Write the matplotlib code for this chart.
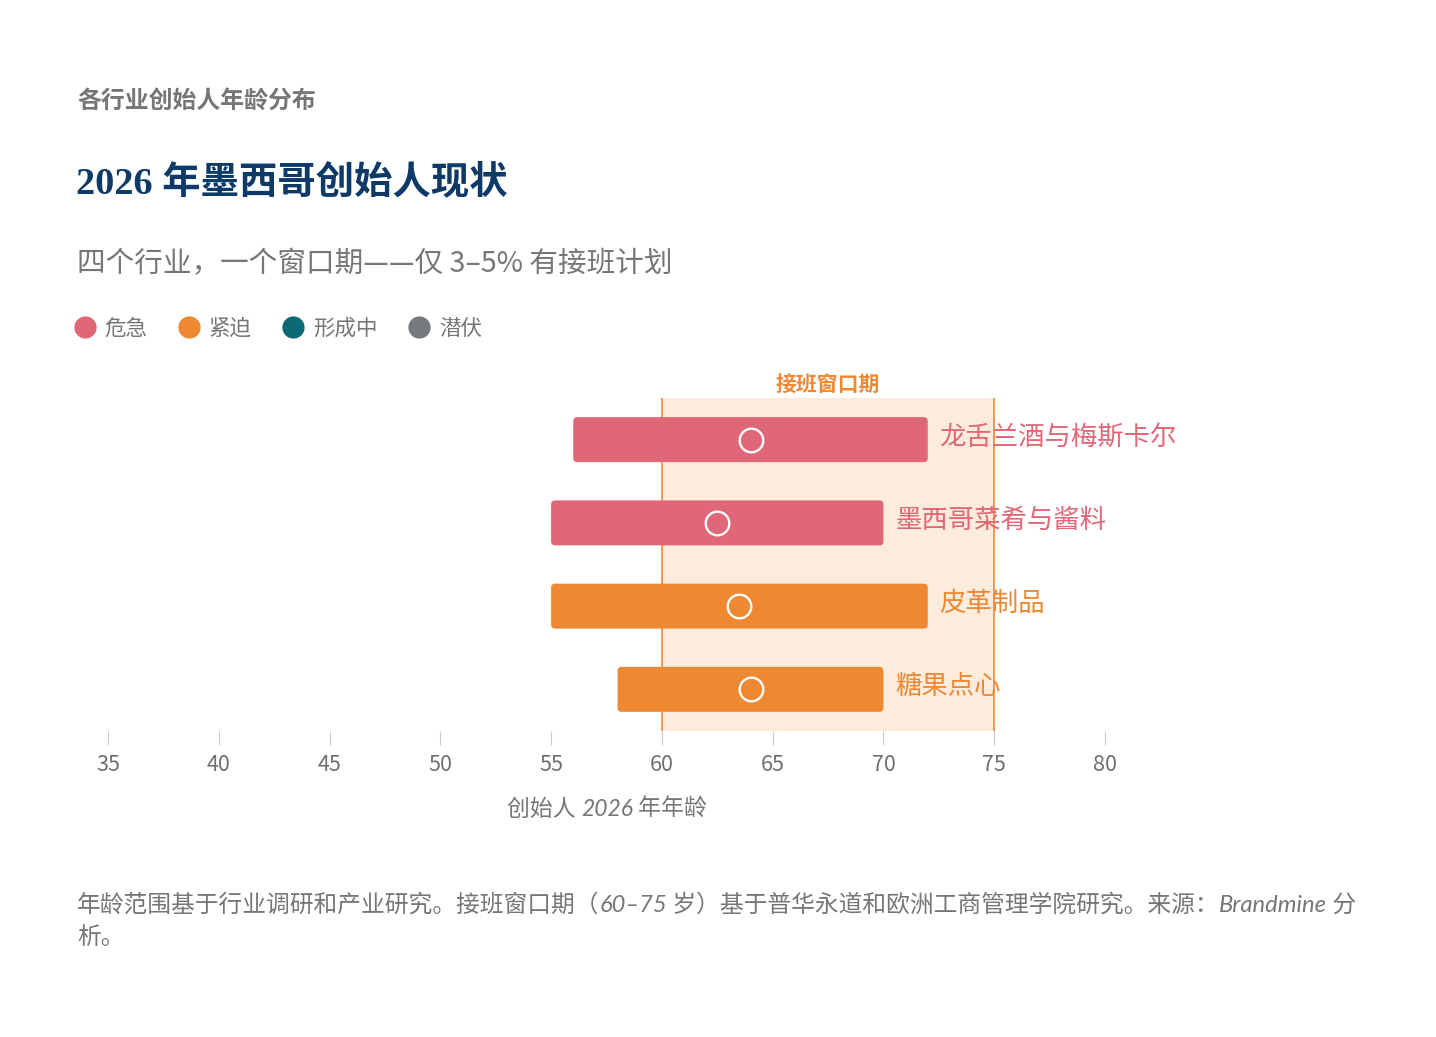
import matplotlib
matplotlib.use("Agg")
import matplotlib.pyplot as plt
from matplotlib.patches import FancyBboxPatch
from matplotlib.lines import Line2D

# ── Data ────────────────────────────────────────────────
industries = ['龙舌兰酒与梅斯卡尔', '墨西哥菜肴与酱料', '皮革制品', '糖果点心']
age_low    = [56, 55, 55, 58]
age_high   = [72, 70, 72, 70]
age_mid    = [64, 62.5, 63.5, 64]
status     = ['危急', '危急', '紧迫', '紧迫']

legend_labels = ['危急', '紧迫', '形成中', '潜伏']
window = (60, 75)
x_ticks = [35, 40, 45, 50, 55, 60, 65, 70, 75, 80]

# ── Style ───────────────────────────────────────────────
COLORS = {'危急': '#E06777', '紧迫': '#EE8833', '形成中': '#0B6A74', '潜伏': '#76797B'}
NAVY   = '#0D3A66'
GRAY   = '#767676'
SHADE  = '#FDEBDC'
CJK    = ['Noto Sans CJK SC', 'DejaVu Sans']
ITAL   = ['Lato', 'Noto Sans CJK SC', 'DejaVu Sans']
plt.rcParams['font.family'] = CJK

W, H = 1436, 1037
fig = plt.figure(figsize=(W / 100, H / 100), dpi=100)
fig.patch.set_facecolor('white')

def fx(px):
    return px / W

def fy(py):
    return 1 - py / H

# ── Header ──────────────────────────────────────────────
fig.text(fx(77), fy(101), '各行业创始人年龄分布', fontsize=17.2, fontweight='bold',
         color=GRAY, va='center')
fig.text(fx(76), fy(183), '2026 年墨西哥创始人现状', fontsize=27.6, fontweight='bold',
         color=NAVY, va='center', family=['Liberation Serif', 'Noto Sans CJK SC'])
fig.text(fx(77), fy(264), '四个行业，一个窗口期——仅 3–5% 有接班计划', fontsize=20.6,
         color=GRAY, va='center')

handles = [Line2D([], [], marker='o', linestyle='none', markersize=15,
                  markerfacecolor=COLORS[k], markeredgecolor=COLORS[k]) for k in legend_labels]
fig.legend(handles, legend_labels, loc='center left', bbox_to_anchor=(fx(74), fy(329)),
           ncol=4, frameon=False, fontsize=15.5, labelcolor=GRAY, handlelength=1.0,
           handletextpad=0.4, columnspacing=1.45, borderpad=0, borderaxespad=0)

# ── Chart ───────────────────────────────────────────────
ax = fig.add_axes([fx(108), fy(731), fx(1105) - fx(108), (731 - 398) / H])
ax.set_xlim(35, 80)
ax.set_ylim(len(industries) - 0.5, -0.5)

ax.axvspan(window[0], window[1], color=SHADE, zorder=0, lw=0)
for v in window:
    ax.axvline(v, color='#EE8833', lw=1.2, zorder=1)
ax.annotate('接班窗口期', xy=(sum(window) / 2, 1), xycoords=('data', 'axes fraction'),
            xytext=(0, 9), textcoords='offset points', ha='center', va='center',
            fontsize=15, fontweight='bold', color='#EE8833')

bar_h = 0.54
px_x = (1105 - 108) / 45        # pixels per year
px_y = 83                        # pixels per row
r = 4 / px_x
for i, name in enumerate(industries):
    c = COLORS[status[i]]
    box = FancyBboxPatch((age_low[i], i - bar_h / 2), age_high[i] - age_low[i], bar_h,
                         boxstyle=f'round,pad=0,rounding_size={r}',
                         mutation_aspect=px_x / px_y, facecolor=c, edgecolor='none', zorder=2)
    ax.add_patch(box)
    ax.plot(age_mid[i], i, marker='o', markersize=17, markerfacecolor='none',
            markeredgecolor='white', markeredgewidth=1.7, zorder=3)
    ax.annotate(name, xy=(age_high[i], i), xytext=(8.5, 2), textcoords='offset points',
                ha='left', va='center', fontsize=19, color=c)

for s in ax.spines.values():
    s.set_visible(False)
ax.set_yticks([])
ax.set_xticks(x_ticks)
ax.tick_params(axis='x', length=10, width=0.8, color='#C9C9C9', labelsize=15.5,
               labelcolor='#6E6E6E', pad=6.5)

# ── Rich text (mixed italic) ────────────────────────────
renderer = fig.canvas.get_renderer()

def rich_text(x_px, y_px, pieces, size, color, ha='left'):
    texts = []
    for s, it in pieces:
        t = fig.text(0, 0, s, fontsize=size, color=color, va='center',
                     family=ITAL if it else CJK, style='italic' if it else 'normal')
        texts.append(t)
    widths = [t.get_window_extent(renderer).width for t in texts]
    x0 = x_px - sum(widths) / 2 if ha == 'center' else x_px
    for t, w in zip(texts, widths):
        t.set_position((fx(x0), fy(y_px)))
        x0 += w

rich_text(607, 809, [('创始人 ', False), ('2026', True), (' 年年龄', False)], 16.5, GRAY,
          ha='center')
rich_text(77, 905, [('年龄范围基于行业调研和产业研究。接班窗口期（', False), ('60–75', True),
                    (' 岁）基于普华永道和欧洲工商管理学院研究。来源：', False),
                    ('Brandmine', True), (' 分', False)], 17.1, GRAY)
rich_text(77, 938, [('析。', False)], 17.1, GRAY)

fig.savefig('out.png', dpi=100, facecolor='white')
